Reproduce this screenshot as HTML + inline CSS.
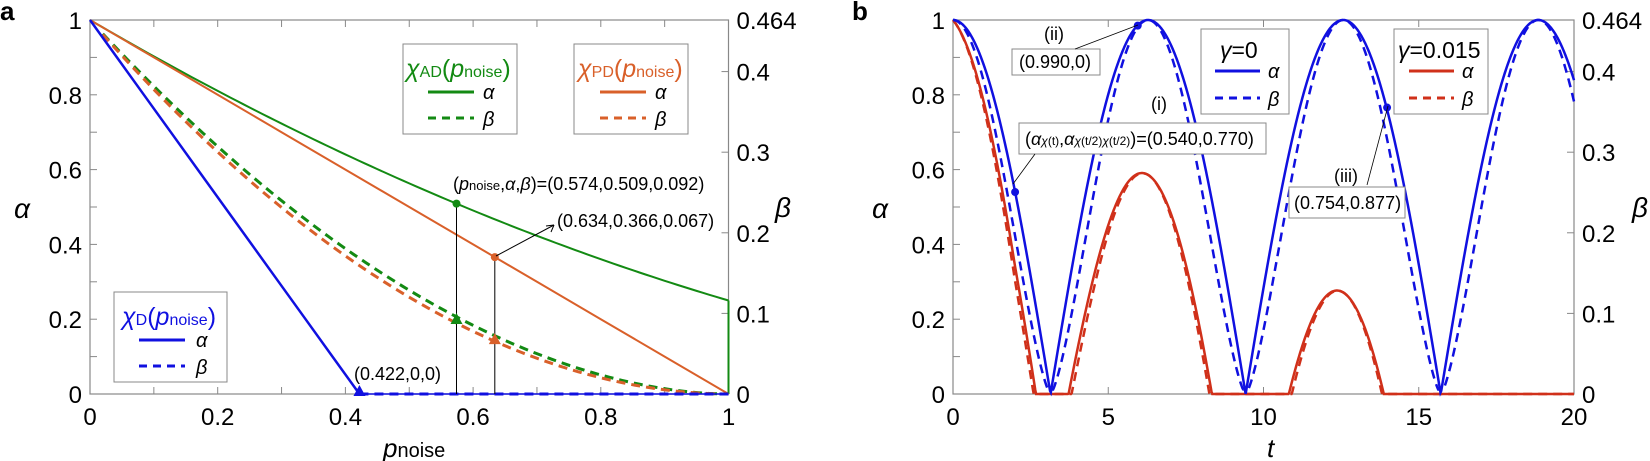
<!DOCTYPE html>
<html><head><meta charset="utf-8"><style>
html,body{margin:0;padding:0;background:#fff}
svg{display:block}
text{font-family:"Liberation Sans",sans-serif;fill:#000}
</style></head><body>
<svg id="s" width="1650" height="461" viewBox="0 0 1650 461" xmlns="http://www.w3.org/2000/svg">
<g id="g"></g>
<text x="0" y="20" font-size="26" font-weight="bold">a</text>
<text x="852" y="20" font-size="26" font-weight="bold">b</text>

<text x="14" y="218" font-size="28" font-style="italic">α</text>
<text x="775" y="217" font-size="28" font-style="italic">β</text>
<text x="383" y="457" font-size="26" font-style="italic">p<tspan font-size="20" font-style="normal">noise</tspan></text>

<rect x="403" y="44" width="114" height="90" fill="#fff" stroke="#888" stroke-width="1"/>
<text x="406" y="77" font-size="25" style="fill:#138a13"><tspan font-style="italic">χ</tspan><tspan font-size="16">AD</tspan>(<tspan font-style="italic">p</tspan><tspan font-size="16">noise</tspan>)</text>
<line x1="428" y1="92" x2="474" y2="92" stroke="#138a13" stroke-width="3"/>
<text x="483" y="99" font-size="20" font-style="italic">α</text>
<line x1="428" y1="118" x2="474" y2="118" stroke="#138a13" stroke-width="3" stroke-dasharray="8,6"/>
<text x="483" y="126" font-size="20" font-style="italic">β</text>

<rect x="574" y="44" width="114" height="90" fill="#fff" stroke="#888" stroke-width="1"/>
<text x="578" y="77" font-size="25" style="fill:#d9602a"><tspan font-style="italic">χ</tspan><tspan font-size="16">PD</tspan>(<tspan font-style="italic">p</tspan><tspan font-size="16">noise</tspan>)</text>
<line x1="600" y1="92" x2="646" y2="92" stroke="#d9602a" stroke-width="3"/>
<text x="655" y="99" font-size="20" font-style="italic">α</text>
<line x1="600" y1="118" x2="646" y2="118" stroke="#d9602a" stroke-width="3" stroke-dasharray="8,6"/>
<text x="655" y="126" font-size="20" font-style="italic">β</text>

<rect x="114" y="292" width="113" height="90" fill="#fff" stroke="#888" stroke-width="1"/>
<text x="122" y="325" font-size="25" style="fill:#1010e0"><tspan font-style="italic">χ</tspan><tspan font-size="16">D</tspan>(<tspan font-style="italic">p</tspan><tspan font-size="16">noise</tspan>)</text>
<line x1="139" y1="340" x2="185" y2="340" stroke="#1010e0" stroke-width="3"/>
<text x="196" y="347" font-size="20" font-style="italic">α</text>
<line x1="139" y1="366" x2="185" y2="366" stroke="#1010e0" stroke-width="3" stroke-dasharray="8,6"/>
<text x="196" y="374" font-size="20" font-style="italic">β</text>

<text x="453" y="190" font-size="18">(<tspan font-style="italic">p</tspan><tspan font-size="13">noise</tspan>,<tspan font-style="italic">α</tspan>,<tspan font-style="italic">β</tspan>)=(0.574,0.509,0.092)</text>
<text x="557" y="227" font-size="18">(0.634,0.366,0.067)</text>
<text x="354" y="380" font-size="18">(0.422,0,0)</text>
<line x1="496" y1="256" x2="554" y2="225" stroke="#000" stroke-width="1"/>
<path d="M554,225 l-8,1 M554,225 l-3,7" stroke="#000" fill="none"/>

<text x="872" y="218" font-size="28" font-style="italic">α</text>
<text x="1632" y="217" font-size="28" font-style="italic">β</text>
<text x="1267" y="457" font-size="26" font-style="italic">t</text>

<rect x="1201" y="29" width="88" height="85" fill="#fff" stroke="#888"/>
<text x="1220" y="58" font-size="23"><tspan font-style="italic">γ</tspan>=0</text>
<line x1="1215" y1="71" x2="1260" y2="71" stroke="#1010e0" stroke-width="3"/>
<text x="1268" y="78" font-size="20" font-style="italic">α</text>
<line x1="1215" y1="98" x2="1260" y2="98" stroke="#1010e0" stroke-width="3" stroke-dasharray="8,6"/>
<text x="1268" y="106" font-size="20" font-style="italic">β</text>

<rect x="1394" y="29" width="94" height="85" fill="#fff" stroke="#888"/>
<text x="1398" y="58" font-size="23"><tspan font-style="italic">γ</tspan>=0.015</text>
<line x1="1409" y1="71" x2="1454" y2="71" stroke="#d0301a" stroke-width="3"/>
<text x="1462" y="78" font-size="20" font-style="italic">α</text>
<line x1="1409" y1="98" x2="1454" y2="98" stroke="#d0301a" stroke-width="3" stroke-dasharray="8,6"/>
<text x="1462" y="106" font-size="20" font-style="italic">β</text>

<text x="1044" y="40" font-size="18">(ii)</text>
<rect x="1012" y="49" width="88" height="26" fill="#fff" stroke="#888"/>
<text x="1019" y="68" font-size="18">(0.990,0)</text>
<text x="1151" y="110" font-size="18">(i)</text>
<rect x="1019" y="123" width="247" height="31" fill="#fff" stroke="#888"/>
<text x="1025" y="145" font-size="18">(<tspan font-style="italic">α</tspan><tspan font-size="12"><tspan font-style="italic">χ</tspan>(t)</tspan>,<tspan font-style="italic">α</tspan><tspan font-size="12"><tspan font-style="italic">χ</tspan>(t/2)<tspan font-style="italic">χ</tspan>(t/2)</tspan>)=(0.540,0.770)</text>
<text x="1334" y="182" font-size="18">(iii)</text>
<rect x="1289" y="187" width="116" height="31" fill="#fff" stroke="#888"/>
<text x="1294" y="209" font-size="18">(0.754,0.877)</text>
<line x1="1013" y1="184" x2="1035" y2="154" stroke="#000" stroke-width="0.8"/>
<line x1="1138" y1="25" x2="1075" y2="49" stroke="#000" stroke-width="0.8"/>
<line x1="1388" y1="106" x2="1367" y2="185" stroke="#000" stroke-width="0.8"/>
</svg>
<script>
(function(){
var NS="http://www.w3.org/2000/svg",g=document.getElementById('g');
function el(t,a,p){var e=document.createElementNS(NS,t);for(var k in a)e.setAttribute(k,a[k]);(p||g).appendChild(e);return e;}
function txt(x,y,s,anchor,size){var e=el('text',{x:x,y:y,'font-size':size||24,'text-anchor':anchor||'middle'});e.textContent=s;return e;}
var T=20,B=394,H=B-T;
function Ya(a){return B-a*H;}
var L=90,R=728.5,W=R-L;
function Xa(p){return L+p*W;}
function path(f,x0,x1,n,X,col,dash,w){var d='';for(var i=0;i<=n;i++){var p=x0+(x1-x0)*i/n;d+=(i?'L':'M')+X(p).toFixed(2)+','+Ya(f(p)).toFixed(2);}
 var a={d:d,fill:'none',stroke:col,'stroke-width':w||2};if(dash)a['stroke-dasharray']=dash;return el('path',a);}
el('rect',{x:L,y:T,width:W,height:H,fill:'none',stroke:'#888','stroke-width':1.2});
for(var i=0;i<=10;i++){var x=Xa(i/10);el('line',{x1:x,y1:B,x2:x,y2:B-7,stroke:'#888'});el('line',{x1:x,y1:T,x2:x,y2:T+7,stroke:'#888'});
 var y=Ya(i/10);el('line',{x1:L,y1:y,x2:L+7,y2:y,stroke:'#888'});}
for(var i=1;i<=4;i++){var y=Ya(i/10/0.464);el('line',{x1:R,y1:y,x2:R-7,y2:y,stroke:'#888'});txt(R+8,y+9,'0.'+i,'start');}
txt(R+8,T+9,'0.464','start');txt(R+8,B+9,'0','start');
['0','0.2','0.4','0.6','0.8','1'].forEach(function(s,i){txt(Xa(i*0.2),425,s);txt(L-8,Ya(i*0.2)+9,s,'end');});
var G='#138a13',O='#d9602a',Bl='#1010e0';
path(function(p){return Math.pow(1-p,1.85);},0.02,1,100,Xa,G,'9,6',3);
path(function(p){return Math.pow(1-p,1.95);},0.02,1,100,Xa,O,'9,6',3);
path(function(p){return 1-0.9974*p+0.2474*p*p;},0,1,100,Xa,G,null,2);
el('line',{x1:R,y1:Ya(0.25),x2:R,y2:B,stroke:G,'stroke-width':2});
path(function(p){return 1-p;},0,1,10,Xa,O,null,2);
el('line',{x1:Xa(0.422),y1:B,x2:R,y2:B,stroke:Bl,'stroke-width':3,'stroke-dasharray':'9,6'});
path(function(p){return 1-p/0.422;},0,0.422,10,Xa,Bl,null,2.5);
el('line',{x1:Xa(0.422),y1:B,x2:R,y2:B,stroke:Bl,'stroke-width':1.5});
el('line',{x1:Xa(0.574),y1:Ya(0.509),x2:Xa(0.574),y2:B,stroke:'#000','stroke-width':1});
el('line',{x1:Xa(0.634),y1:Ya(0.366),x2:Xa(0.634),y2:B,stroke:'#000','stroke-width':1});
el('circle',{cx:Xa(0.574),cy:Ya(0.509),r:4,fill:G});
el('circle',{cx:Xa(0.634),cy:Ya(0.366),r:4,fill:O});
function tri(x,y,c){el('path',{d:'M'+x+','+(y-7)+'L'+(x+6)+','+(y+4)+'L'+(x-6)+','+(y+4)+'Z',fill:c});}
tri(Xa(0.574),Ya(0.198),G);tri(Xa(0.634),Ya(0.144),O);tri(Xa(0.422),B-2,Bl);
var L2=953,R2=1574,W2=R2-L2;function Xb(t){return L2+t/20*W2;}
el('rect',{x:L2,y:T,width:W2,height:H,fill:'none',stroke:'#888','stroke-width':1.2});
for(var i=0;i<=4;i++){var x=Xb(i*5);el('line',{x1:x,y1:B,x2:x,y2:B-7,stroke:'#888'});el('line',{x1:x,y1:T,x2:x,y2:T+7,stroke:'#888'});txt(x,425,String(i*5));}
for(var i=0;i<=10;i++){var y=Ya(i/10);el('line',{x1:L2,y1:y,x2:L2+7,y2:y,stroke:'#888'});}
['0','0.2','0.4','0.6','0.8','1'].forEach(function(s,i){txt(L2-8,Ya(i*0.2)+9,s,'end');});
for(var i=1;i<=4;i++){var y=Ya(i/10/0.464);el('line',{x1:R2,y1:y,x2:R2-7,y2:y,stroke:'#888'});txt(R2+8,y+9,'0.'+i,'start');}
txt(R2+8,T+9,'0.464','start');txt(R2+8,B+9,'0','start');
var RD='#d0301a';
function c(t){return Math.abs(Math.cos(t/2));}
function d(t){return 0.05*t+0.1*Math.min(1,t/2);}
path(function(t){return Math.max(0,Math.pow(c(t),1.12)-d(t));},0,20,800,Xb,RD,'9,6',2.5);
path(function(t){return Math.max(0,c(t)-d(t));},0,20,800,Xb,RD,null,2.5);
path(function(t){var v=Math.pow(c(t),1.4);return Math.max(v,0.012);},0,20,800,Xb,Bl,'9,6',2.5);
path(c,0,20,800,Xb,Bl,null,2.5);
el('circle',{cx:Xb(2),cy:Ya(0.54),r:4,fill:Bl});
el('circle',{cx:Xb(5.95),cy:Ya(0.985),r:4,fill:Bl});
el('circle',{cx:Xb(13.98),cy:Ya(0.766),r:4,fill:Bl});
})();
</script>
</body></html>
